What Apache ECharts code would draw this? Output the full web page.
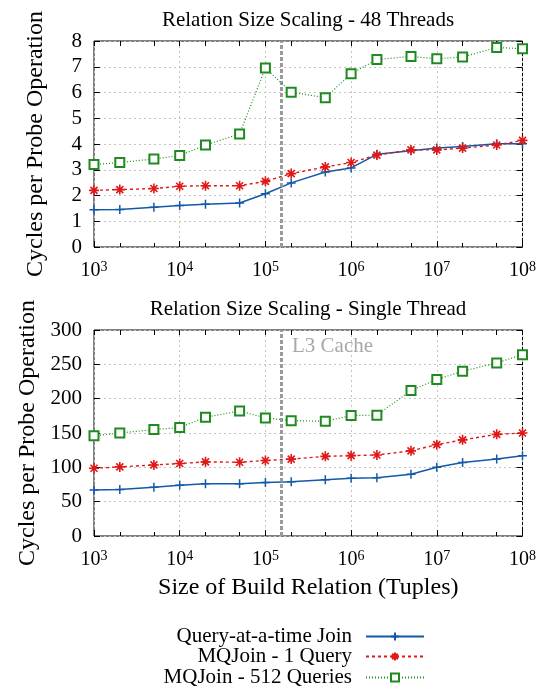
<!DOCTYPE html>
<html>
<head>
<meta charset="utf-8">
<script src="https://cdn.jsdelivr.net/npm/echarts@6/dist/echarts.min.js"></script>
<style>
  html, body { margin: 0; padding: 0; background: #fff; }
  #chart { width: 539px; height: 686px; }
</style>
</head>
<body>
<div id="chart"></div>
<script>
// Build relation sizes (tuples)
const sizes = [1e3, 2e3, 5e3, 1e4, 2e4, 5e4, 1e5, 2e5, 5e5, 1e6, 2e6, 5e6, 1e7, 2e7, 5e7, 1e8];

// Cycles per probe operation, 48 threads
const mt_queryAtATime = [1.45, 1.46, 1.54, 1.61, 1.66, 1.71, 2.07, 2.49, 2.91, 3.07, 3.60, 3.74, 3.84, 3.90, 4.01, 4.01];
const mt_mq1 = [2.20, 2.23, 2.27, 2.36, 2.38, 2.38, 2.55, 2.85, 3.11, 3.28, 3.57, 3.77, 3.77, 3.84, 3.96, 4.14];
const mt_mq512 = [3.20, 3.28, 3.42, 3.55, 3.96, 4.39, 6.95, 6.01, 5.80, 6.73, 7.28, 7.40, 7.31, 7.38, 7.75, 7.70];

// Cycles per probe operation, single thread
const st_queryAtATime = [67, 67.6, 71, 74, 76, 76, 78, 79, 82, 84, 85, 90, 100, 107, 112, 117];
const st_mq1 = [98.7, 100.6, 103.5, 105.5, 108, 107.4, 110, 112, 116, 117, 118, 124, 133, 140, 148, 150];
const st_mq512 = [146, 150, 155, 158, 173, 182, 172, 168, 167, 175.5, 176, 212, 228, 240, 252, 264];

// L3 cache capacity in tuples
const l3CacheTuples = 155000;

const seriesNames = ['Query-at-a-time Join', 'MQJoin - 1 Query', 'MQJoin - 512 Queries'];
const minorTickValues = [2e3, 5e3, 2e4, 5e4, 2e5, 5e5, 2e6, 5e6, 2e7, 5e7];
const allTickValues = [1e3, 2e3, 5e3, 1e4, 2e4, 5e4, 1e5, 2e5, 5e5, 1e6, 2e6, 5e6, 1e7, 2e7, 5e7, 1e8];
const decadeValues = [1e3, 1e4, 1e5, 1e6, 1e7, 1e8];

const FONT = '"Liberation Serif", "DejaVu Serif", serif';
const C_BLUE = '#1458a8';
const C_RED = '#e01818';
const C_GREEN = '#1f8a1f';

const plusPath = 'path://M5,0L5,10M0,5L10,5';
const starPath = 'path://M5,0L5,10M0,5L10,5M1.5,1.5L8.5,8.5M1.5,8.5L8.5,1.5';

function pairs(vals) { return sizes.map((s, i) => [s, vals[i]]); }

function xAxesFor(gridIndex, withLabels, name) {
  const base = { type: 'log', logBase: 10, min: 1e3, max: 1e8, gridIndex: gridIndex };
  return [
    Object.assign({}, base, {
      position: 'bottom',
      axisLine: { show: false },
      axisTick: { show: true, inside: true, length: 6, lineStyle: { color: '#000', width: 1 }, customValues: decadeValues },
      splitLine: { show: true, lineStyle: { color: '#c4c4c4', type: [2, 3], width: 1 } },
      axisLabel: {
        show: withLabels, margin: 13, customValues: decadeValues,
        formatter: v => '{b|10}{s|' + Math.round(Math.log10(v)) + '}',
        rich: {
          b: { fontFamily: FONT, fontSize: 20, color: '#000', lineHeight: 22 },
          s: { fontFamily: FONT, fontSize: 14, color: '#000', verticalAlign: 'top', lineHeight: 14, padding: [0, 0, 8, 0] }
        }
      },
      name: name || '',
      nameLocation: 'middle',
      nameGap: 40,
      nameTextStyle: { fontFamily: FONT, fontSize: 24, color: '#000' }
    }),
    Object.assign({}, base, {
      position: 'bottom',
      axisLine: { show: false },
      axisTick: { show: true, inside: true, length: 4, lineStyle: { color: '#000', width: 1 }, customValues: minorTickValues },
      splitLine: { show: false },
      axisLabel: { show: false }
    }),
    Object.assign({}, base, {
      position: 'top',
      axisLine: { show: false },
      axisTick: { show: true, inside: true, length: 5, lineStyle: { color: '#000', width: 1 }, customValues: allTickValues },
      splitLine: { show: false },
      axisLabel: { show: false }
    })
  ];
}

function yAxesFor(gridIndex, max, interval) {
  return [
    {
      type: 'value', gridIndex: gridIndex, min: 0, max: max, interval: interval, position: 'left',
      axisLine: { show: false },
      axisTick: { show: true, inside: true, length: 6, lineStyle: { color: '#000' } },
      splitLine: { show: true, lineStyle: { color: '#c4c4c4', type: [2, 3], width: 1 } },
      axisLabel: { fontFamily: FONT, fontSize: 21, color: '#000', margin: 12 },
      name: 'Cycles per Probe Operation',
      nameLocation: 'middle',
      nameGap: 46,
      nameRotate: 90,
      nameTextStyle: { fontFamily: FONT, fontSize: 24, color: '#000' }
    },
    {
      type: 'value', gridIndex: gridIndex, min: 0, max: max, interval: interval, position: 'right',
      axisLine: { show: false },
      axisTick: { show: true, inside: true, length: 6, lineStyle: { color: '#000' } },
      splitLine: { show: false },
      axisLabel: { show: false }
    }
  ];
}

function makeSeries(xIdx, yIdx, q, m1, m512, withCacheLine) {
  const list = [
    {
      name: seriesNames[0], type: 'line', xAxisIndex: xIdx, yAxisIndex: yIdx, data: pairs(q),
      symbol: plusPath, symbolSize: 9, showAllSymbol: true,
      lineStyle: { color: C_BLUE, width: 1.5, type: 'solid' },
      itemStyle: { color: C_BLUE, borderColor: C_BLUE, borderWidth: 1.5 },
      z: 3
    },
    {
      name: seriesNames[1], type: 'line', xAxisIndex: xIdx, yAxisIndex: yIdx, data: pairs(m1),
      symbol: starPath, symbolSize: 10, showAllSymbol: true,
      lineStyle: { color: C_RED, width: 1.4, type: [3, 3] },
      itemStyle: { color: C_RED, borderColor: C_RED, borderWidth: 1.6 },
      z: 4
    },
    {
      name: seriesNames[2], type: 'line', xAxisIndex: xIdx, yAxisIndex: yIdx, data: pairs(m512),
      symbol: 'emptyRect', symbolSize: 9, showAllSymbol: true,
      lineStyle: { color: C_GREEN, width: 1.2, type: [1, 2] },
      itemStyle: { color: C_GREEN, borderColor: C_GREEN, borderWidth: 1.3 },
      z: 5
    }
  ];
  if (withCacheLine) {
    list[0].markLine = {
      silent: true, symbol: 'none', animation: false,
      label: { show: false },
      lineStyle: { color: '#9a9a9a', type: [4, 2], width: 3 },
      data: [{ xAxis: l3CacheTuples }]
    };
  }
  return list;
}

function legendRow(name, top) {
  return {
    data: [name], top: top, right: 114, orient: 'horizontal', align: 'right', padding: 0,
    itemWidth: 58, itemHeight: 10, selectedMode: false,
    textStyle: { fontFamily: FONT, fontSize: 21, color: '#000', padding: [0, 9, 0, 0] }
  };
}

const chart = echarts.init(document.getElementById('chart'), null, { renderer: 'canvas' });

chart.setOption({
  animation: false,
  backgroundColor: '#fff',
  title: [
    { text: 'Relation Size Scaling - 48 Threads', left: 308, top: 10, textAlign: 'center', padding: 0,
      textStyle: { fontFamily: FONT, fontSize: 21, fontWeight: 'normal', color: '#000' } },
    { text: 'Relation Size Scaling - Single Thread', left: 308, top: 299, textAlign: 'center', padding: 0,
      textStyle: { fontFamily: FONT, fontSize: 21, fontWeight: 'normal', color: '#000' } }
  ],
  legend: [
    legendRow(seriesNames[0], 626),
    legendRow(seriesNames[1], 646),
    legendRow(seriesNames[2], 667)
  ],
  grid: [
    { left: 94, right: 16, top: 41, height: 206, show: true, borderColor: '#000', borderWidth: 1, backgroundColor: 'transparent' },
    { left: 94, right: 16, top: 330, height: 206, show: true, borderColor: '#000', borderWidth: 1, backgroundColor: 'transparent' }
  ],
  xAxis: [].concat(xAxesFor(0, true), xAxesFor(1, true, 'Size of Build Relation (Tuples)')),
  yAxis: [].concat(yAxesFor(0, 8, 1), yAxesFor(1, 300, 50)),
  series: [].concat(
    makeSeries(0, 0, mt_queryAtATime, mt_mq1, mt_mq512, true),
    makeSeries(3, 2, st_queryAtATime, st_mq1, st_mq512, true)
  ),
  graphic: [
    { type: 'text', left: 292, top: 336,
      style: { text: 'L3 Cache', fontFamily: FONT, fontSize: 21, fill: '#a8a8a8' } }
  ]
});
</script>
</body>
</html>
